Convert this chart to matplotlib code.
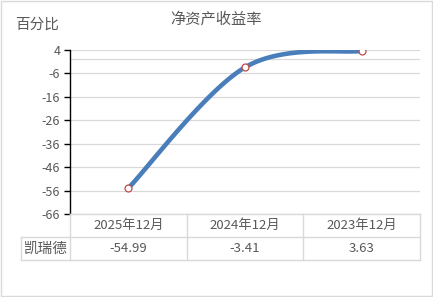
import matplotlib
matplotlib.use('Agg')
import matplotlib.pyplot as plt
import numpy as np
from matplotlib.lines import Line2D

plt.rcParams['font.family'] = ['Noto Sans CJK SC', 'DejaVu Sans']
plt.rcParams['axes.unicode_minus'] = False

# data
periods = ['2025年12月', '2024年12月', '2023年12月']
company = '凯瑞德'
roe = [-54.99, -3.41, 3.63]
y_ticks = [4, -6, -16, -26, -36, -46, -56, -66]

W, H = 433, 297
GRID = '#d9d9d9'
TXT = '#595959'


def fx(p):
    return p / W


def fy(p):
    return 1 - p / H


def smooth_curve(xs, ys, n=60):
    # Catmull-Rom style bezier, like Excel's smoothed line
    px = [xs[0]] + list(xs) + [xs[-1]]
    py = [ys[0]] + list(ys) + [ys[-1]]
    out_x, out_y = [], []
    t = np.linspace(0, 1, n)
    for i in range(1, len(px) - 2):
        x0, y0 = px[i], py[i]
        x3, y3 = px[i + 1], py[i + 1]
        x1 = x0 + (px[i + 1] - px[i - 1]) / 6
        y1 = y0 + (py[i + 1] - py[i - 1]) / 6
        x2 = x3 - (px[i + 2] - px[i]) / 6
        y2 = y3 - (py[i + 2] - py[i]) / 6
        bx = (1-t)**3*x0 + 3*(1-t)**2*t*x1 + 3*(1-t)*t**2*x2 + t**3*x3
        by = (1-t)**3*y0 + 3*(1-t)**2*t*y1 + 3*(1-t)*t**2*y2 + t**3*y3
        out_x.extend(bx)
        out_y.extend(by)
    return np.array(out_x), np.array(out_y)


fig = plt.figure(figsize=(W / 100, H / 100), dpi=100)
fig.patch.set_facecolor('white')
# outer border
fig.add_artist(plt.Rectangle((0.002, 0.004), 0.995, 0.993, transform=fig.transFigure,
                             fill=False, edgecolor=GRID, linewidth=1))

ax_l, ax_r, ax_t, ax_b = 70, 420, 50, 214
ax = fig.add_axes([fx(ax_l), fy(ax_b), (ax_r - ax_l) / W, (ax_b - ax_t) / H])
x = np.arange(len(periods))
sx, sy = smooth_curve(x, roe)
ax.plot(sx, sy, color='#4a7ebb', linewidth=3.3, solid_capstyle='round', zorder=3)
ax.plot(x, roe, linestyle='none', marker='o', markersize=5, markerfacecolor='white',
        markeredgecolor='#be4b48', markeredgewidth=0.9, zorder=4)

ax.set_xlim(-0.5, len(periods) - 0.5)
ax.set_ylim(-66, 4)
ax.set_yticks(y_ticks)
ax.set_yticklabels([str(v) for v in y_ticks], fontsize=9, color=TXT)
ax.set_xticks([])
for v in y_ticks:
    ax.axhline(v, color=GRID, linewidth=0.9, zorder=1)
ax.axhline(0, color=GRID, linewidth=0.9, zorder=1)

for side in ['top', 'right', 'bottom']:
    ax.spines[side].set_visible(False)
ax.spines['left'].set_color('black')
ax.spines['left'].set_linewidth(1)
ax.tick_params(axis='y', direction='out', length=4, width=1, color='black', pad=3)

# data table under the axis, drawn by hand
row1, row2, row3 = 214, 237, 260
lab_l = 21
col_w = (ax_r - ax_l) / len(periods)
col_edges = [ax_l + i * col_w for i in range(len(periods) + 1)]


def hline(y, x0, x1):
    fig.add_artist(Line2D([fx(x0), fx(x1)], [fy(y), fy(y)], color=GRID, linewidth=1))


def vline(x0, y0, y1):
    fig.add_artist(Line2D([fx(x0), fx(x0)], [fy(y0), fy(y1)], color=GRID, linewidth=1))


hline(row1, ax_l, ax_r)
hline(row2, lab_l, ax_r)
hline(row3, lab_l, ax_r)
vline(lab_l, row2, row3)
for ce in col_edges:
    vline(ce, row1, row3)

for i, (p, v) in enumerate(zip(periods, roe)):
    cx = ax_l + (i + 0.5) * col_w
    fig.text(fx(cx), fy((row1 + row2) / 2), p, ha='center', va='center', fontsize=9.5, color=TXT)
    fig.text(fx(cx), fy((row2 + row3) / 2), f'{v:.2f}', ha='center', va='center', fontsize=9.5, color=TXT)
fig.text(fx((lab_l + ax_l) / 2), fy((row2 + row3) / 2), company, ha='center', va='center',
         fontsize=10.5, color=TXT)

fig.text(fx(216), fy(19), '净资产收益率', ha='center', va='center', fontsize=11, color=TXT)
fig.text(fx(37), fy(25), '百分比', ha='center', va='center', fontsize=10.5, color=TXT)

fig.savefig('out.png', dpi=100)
